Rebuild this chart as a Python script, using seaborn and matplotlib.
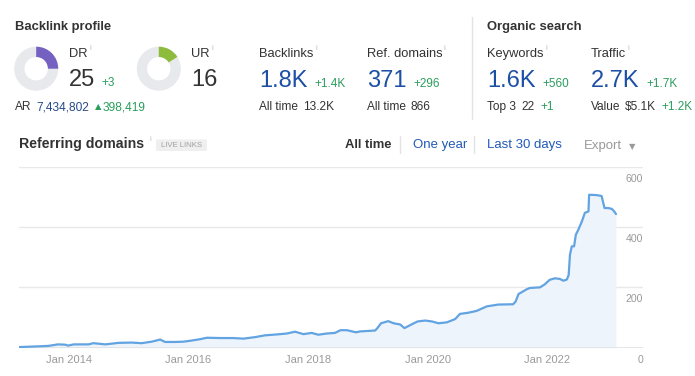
import numpy as np
import pandas as pd
import matplotlib
matplotlib.use("Agg")
import matplotlib.pyplot as plt
import matplotlib.patches as mpatches
import seaborn as sns

# ---------------- data ----------------
dr_value = 25
ur_value = 16

dates = [
    "2013-03-02", "2013-06-06", "2013-08-29", "2013-10-26", "2013-12-09", "2013-12-28",
    "2014-01-30", "2014-05-01", "2014-05-30", "2014-08-11", "2014-10-30", "2015-01-19",
    "2015-03-21", "2015-05-22", "2015-07-12", "2015-08-11", "2015-10-12", "2015-12-02",
    "2016-01-12", "2016-03-10", "2016-04-23", "2016-07-12", "2016-10-01", "2016-12-02",
    "2017-02-10", "2017-04-13", "2017-06-25", "2017-08-23", "2017-10-13", "2017-12-03",
    "2018-01-23", "2018-03-04", "2018-04-24", "2018-06-14", "2018-07-17", "2018-08-26",
    "2018-10-20", "2018-11-15", "2019-02-14", "2019-02-28", "2019-03-22", "2019-05-05",
    "2019-06-07", "2019-07-17", "2019-08-12", "2019-09-24", "2019-10-31", "2019-12-17",
    "2020-01-27", "2020-03-07", "2020-04-27", "2020-06-17", "2020-07-16", "2020-09-05",
    "2020-10-26", "2020-12-27", "2021-03-07", "2021-06-06", "2021-06-21", "2021-07-09",
    "2021-08-29", "2021-09-16", "2021-11-17", "2021-12-16", "2022-01-15", "2022-02-16",
    "2022-03-18", "2022-04-09", "2022-04-30", "2022-05-11", "2022-05-19", "2022-05-30",
    "2022-06-13", "2022-06-24", "2022-07-09", "2022-07-31", "2022-08-18", "2022-09-09",
    "2022-09-13", "2022-10-26", "2022-11-28", "2022-12-16", "2023-01-08", "2023-01-30",
    "2023-02-13", "2023-02-24",
]
ref_domains = [
    2, 4, 6, 11, 10, 7,
    11, 11, 15, 11, 16, 17,
    15, 20, 27, 19, 19, 20,
    23, 28, 33, 32, 32, 30,
    35, 41, 44, 47, 53, 45,
    49, 43, 47, 49, 58, 58,
    51, 54, 57, 65, 81, 88,
    81, 77, 65, 77, 87, 90,
    87, 81, 84, 95, 112, 116,
    122, 137, 143, 144, 153, 178,
    194, 198, 200, 210, 225, 230,
    228, 222, 226, 241, 308, 336,
    336, 375, 391, 419, 447, 452,
    507, 506, 503, 463, 463, 460,
    452, 443,
]
y_ticks = [0, 200, 400, 600]
y_tick_labels = ["0", "200", "400", "600"]
x_ticks = ["2014-01-01", "2016-01-01", "2018-01-01", "2020-01-01", "2022-01-01"]
x_tick_labels = ["Jan 2014", "Jan 2016", "Jan 2018", "Jan 2020", "Jan 2022"]

df = pd.DataFrame({"date": pd.to_datetime(dates), "value": ref_domains})

# ---------------- style ----------------
sns.set_style("white")
plt.rcParams["font.family"] = ["Liberation Sans", "DejaVu Sans"]

W, H = 695, 376
fig = plt.figure(figsize=(W / 100, H / 100), dpi=100)
fig.patch.set_facecolor("white")

DARK = "#333333"
BLUE = "#1c4fa6"
LINK = "#2159b8"
GREEN = "#2a9d5c"
GRAY = "#9a9a9a"
INFO = "#c4c4c4"

# overlay in pixel coordinates
ov = fig.add_axes([0, 0, 1, 1])
ov.set_xlim(0, W)
ov.set_ylim(H, 0)
ov.axis("off")


def T(x, y, s, size=9.3, color=DARK, weight="normal", ha="left", va="baseline", **kw):
    ov.text(x, y, s, fontsize=size, color=color, fontweight=weight, ha=ha, va=va, **kw)


# ---- header: Backlink profile ----
T(15, 30, "Backlink profile", size=9.4, weight="bold")

for cx, val, col in [(36.2, dr_value, "#7561c2"), (158.8, ur_value, "#8dbb3c")]:
    ov.add_patch(mpatches.Wedge((cx, 68.7), 22, 0, 360, width=10.3, facecolor="#e8e9ec", edgecolor="none"))
    ov.add_patch(mpatches.Wedge((cx, 68.7), 22, -90, -90 + val * 3.6, width=10.3, facecolor=col, edgecolor="none"))

T(69, 56.7, "DR")
T(89.5, 50, "i", size=6, color=INFO)
T(69, 86.5, str(dr_value), size=17)
T(101.5, 86.5, "+3", size=8.5, color=GREEN)
T(191.5, 56.7, "UR")
T(211.5, 50, "i", size=6, color=INFO)
T(191.5, 86.5, str(ur_value), size=17)

T(15, 110, "AR", size=8.6)
T(36, 110, "7,434,802", size=8.6, color="#254a8a")
T(95, 109.5, "\u25b2", size=6, color=GREEN, family=["DejaVu Sans"])
T(103, 110, "398,419", size=8.6, color=GREEN)

# Backlinks
T(259.3, 57, "Backlinks")
T(315.5, 50, "i", size=6, color=INFO)
T(259.3, 86.7, "1.8K", size=17, color=BLUE)
T(314, 86.7, "+1.4K", size=8.5, color=GREEN)
T(259.3, 110, "All time", size=8.6)
T(303.3, 110, "13.2K", size=8.6)

# Ref. domains
T(366.7, 57, "Ref. domains")
T(443.5, 50, "i", size=6, color=INFO)
T(366.7, 86.7, "371", size=17, color=BLUE)
T(413.3, 86.7, "+296", size=8.5, color=GREEN)
T(366.7, 110, "All time", size=8.6)
T(410.7, 110, "866", size=8.6)

# separator
ov.plot([471.5, 471.5], [17, 119], color="#e3e3e3", lw=1)

# Organic search
T(487.3, 30, "Organic search", size=9.4, weight="bold")
T(487.3, 57, "Keywords")
T(545.5, 50, "i", size=6, color=INFO)
T(487.3, 86.7, "1.6K", size=17, color=BLUE)
T(542.7, 86.7, "+560", size=8.5, color=GREEN)
T(487.3, 110, "Top 3", size=8.6)
T(521.7, 110, "22", size=8.6)
T(540, 110, "+1", size=8.5, color=GREEN)

T(590.7, 57, "Traffic")
T(627.5, 50, "i", size=6, color=INFO)
T(590.7, 86.7, "2.7K", size=17, color=BLUE)
T(646, 86.7, "+1.7K", size=8.5, color=GREEN)
T(590.7, 110, "Value", size=8.6)
T(625, 110, "$5.1K", size=8.6)
T(661, 110, "+1.2K", size=8.5, color=GREEN)

# ---- chart header row ----
T(19, 148, "Referring domains", size=10.2, weight="bold")
T(149, 141, "i", size=6, color=INFO)
ov.add_patch(mpatches.FancyBboxPatch((156, 139.5), 51, 11.5, boxstyle="round,pad=0,rounding_size=1.5",
                                     facecolor="#efefef", edgecolor="none"))
T(181.5, 145.5, "LIVE LINKS", size=5.6, color="#a0a0a0", ha="center", va="center")

T(345, 148, "All time", size=9.4, weight="bold")
ov.plot([400, 400], [136, 153], color="#e3e3e3", lw=1)
T(412.7, 148, "One year", size=9.5, color=LINK)
ov.plot([474, 474], [136, 153], color="#e3e3e3", lw=1)
T(487, 148, "Last 30 days", size=9.5, color=LINK)
T(584, 148.5, "Export", size=9.5, color=GRAY)
T(632.5, 146.5, "\u25bc", size=6, color=GRAY, ha="center", va="center", family=["DejaVu Sans"])

# ---------------- line chart ----------------
left, right = 19 / W, 643 / W
bottom = 1 - 347.7 / H
top = 1 - 166.7 / H
ax = fig.add_axes([left, bottom, right - left, top - bottom])
ax.patch.set_alpha(0)

line_color = "#62a3e2"
ax.fill_between(df["date"], df["value"], 0, color="#eef4fc", lw=0, zorder=1)
sns.lineplot(data=df, x="date", y="value", ax=ax, color=line_color, lw=1.6, zorder=3)

ax.set_xlim(pd.Timestamp("2013-03-02"), pd.Timestamp("2023-08-08"))
ax.set_ylim(0, 600)
for v in y_ticks[1:]:
    ax.axhline(v, color="#e8e8e8", lw=1, zorder=0)
ax.axhline(0, color="#dedede", lw=1.8, zorder=2)

for v, lbl in zip(y_ticks, y_tick_labels):
    ax.annotate(lbl, xy=(1, v), xycoords=("axes fraction", "data"), xytext=(0, -12),
                textcoords="offset pixels", ha="right", va="center", fontsize=7.6, color=GRAY)

ax.set_yticks([])
ax.set_xticks(pd.to_datetime(x_ticks))
ax.set_xticklabels(x_tick_labels)
ax.tick_params(axis="x", direction="in", length=5, width=1, color="#e2e2e2", pad=5.5,
               labelsize=8, labelcolor=GRAY)
ax.set_xlabel("")
ax.set_ylabel("")
for s in ax.spines.values():
    s.set_visible(False)

fig.savefig("out.png", dpi=100)
